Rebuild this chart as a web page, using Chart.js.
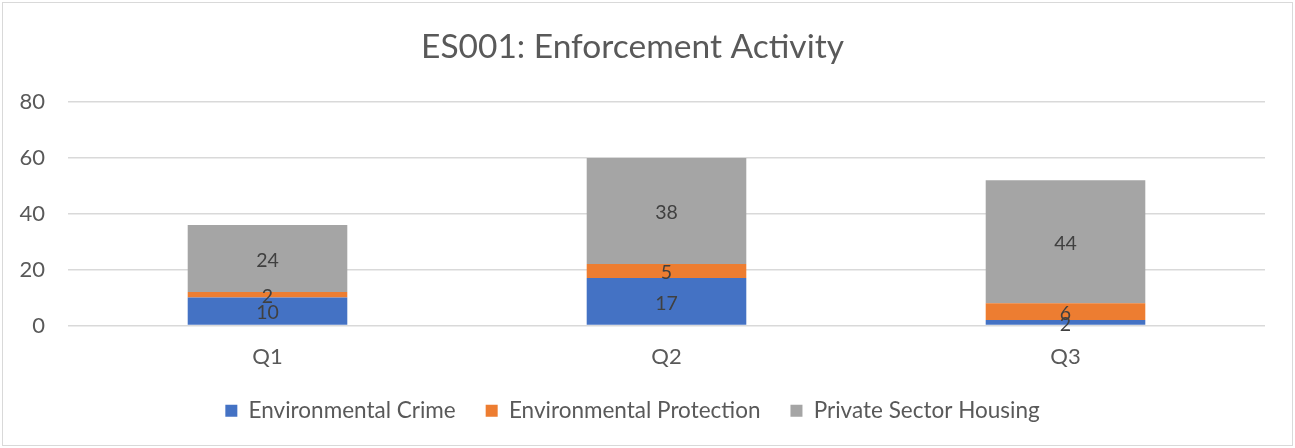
<!DOCTYPE html>
<html>
<head>
<meta charset="utf-8">
<script src="https://cdn.jsdelivr.net/npm/chart.js@4"></script>
<style>
  html, body { margin: 0; padding: 0; background: #fff; }
  #wrap { width: 1295px; height: 448px; position: relative; }
</style>
</head>
<body>
<div id="wrap"><canvas id="myChart" width="1295" height="448"></canvas></div>
<script>
const quarters = ["Q1", "Q2", "Q3"];
const envCrime = [10, 17, 2];
const envProtection = [2, 5, 6];
const privateHousing = [24, 38, 44];

const FONT = "Lato";

// draws the number in the middle of each stacked segment
const segmentLabels = {
  id: "segmentLabels",
  afterDatasetsDraw(chart) {
    const ctx = chart.ctx;
    ctx.save();
    ctx.font = "19.5px " + FONT;
    ctx.fillStyle = "#404040";
    ctx.textAlign = "center";
    ctx.textBaseline = "middle";
    chart.data.datasets.forEach((ds, i) => {
      chart.getDatasetMeta(i).data.forEach((bar, j) => {
        const p = bar.getProps(["x", "y", "base"], true);
        ctx.fillText(ds.data[j], p.x, (p.y + p.base) / 2 + 2);
      });
    });
    ctx.restore();
  },
};

const frame = {
  id: "frame",
  beforeDraw(chart) {
    const ctx = chart.ctx;
    ctx.save();
    ctx.fillStyle = "#fff";
    ctx.fillRect(0, 0, chart.width, chart.height);
    ctx.strokeStyle = "#d9d9d9";
    ctx.lineWidth = 1;
    ctx.strokeRect(2.5, 2.5, chart.width - 5, chart.height - 5);
    ctx.restore();
  },
};

const ctx = document.getElementById("myChart").getContext("2d");
new Chart(ctx, {
  type: "bar",
  data: {
    labels: quarters,
    datasets: [
      { label: "Environmental Crime", data: envCrime, backgroundColor: "#4472C4" },
      { label: "Environmental Protection", data: envProtection, backgroundColor: "#ED7D31" },
      { label: "Private Sector Housing", data: privateHousing, backgroundColor: "#A5A5A5" },
    ],
  },
  options: {
    responsive: false,
    animation: false,
    layout: { padding: { left: 0, right: 30, top: 0, bottom: 16 } },
    datasets: { bar: { categoryPercentage: 1, barPercentage: 0.4 } },
    plugins: {
      title: {
        display: true,
        text: "ES001: Enforcement Activity",
        color: "#595959",
        font: { family: FONT, size: 33.5, weight: "normal" },
        padding: { top: 27, bottom: 35 },
      },
      legend: {
        position: "bottom",
        labels: {
          boxWidth: 12,
          boxHeight: 12,
          padding: 30,
          color: "#595959",
          font: { family: FONT, size: 22.5 },
        },
      },
      tooltip: { enabled: false },
    },
    scales: {
      x: {
        stacked: true,
        afterFit: (scale) => { scale.height = 44; },
        grid: { display: false },
        border: { display: false },
        ticks: { color: "#595959", font: { family: FONT, size: 22 }, padding: 10 },
      },
      y: {
        stacked: true,
        min: 0,
        max: 80,
        afterFit: (scale) => { scale.width = 68; },
        grid: { color: "#d9d9d9", lineWidth: 1.5, drawTicks: false },
        border: { display: false },
        ticks: { stepSize: 20, color: "#595959", font: { family: FONT, size: 22 }, padding: 23 },
      },
    },
  },
  plugins: [frame, segmentLabels],
});
</script>
</body>
</html>
